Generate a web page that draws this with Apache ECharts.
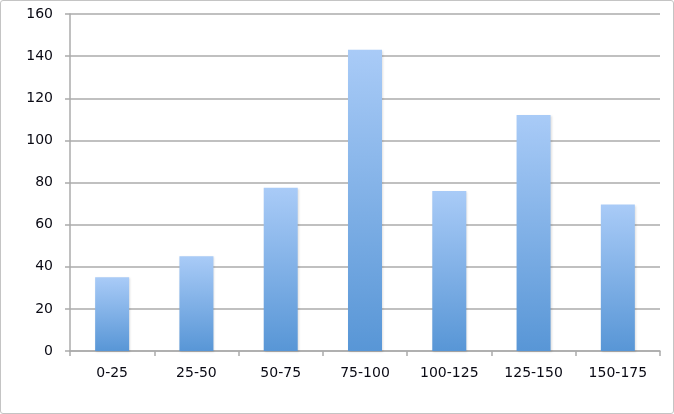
<!DOCTYPE html>
<html>
<head>
<meta charset="utf-8">
<script src="https://cdn.jsdelivr.net/npm/echarts@6/dist/echarts.min.js"></script>
<style>
html,body{margin:0;padding:0;background:#fff;}
#c{width:674px;height:414px;box-sizing:border-box;border:1px solid #c4c4c4;border-radius:3px;}
</style>
</head>
<body>
<div id="c"></div>
<script>
var categories = ['0-25','25-50','50-75','75-100','100-125','125-150','150-175'];
var values = [35, 45, 77.5, 143, 76, 112, 69.5];
var yTicks = {min: 0, max: 160, interval: 20};

var chart = echarts.init(document.getElementById('c'), null, {renderer: 'canvas'});
var font = '"DejaVu Sans", sans-serif';
chart.setOption({
  animation: false,
  grid: {left: 69, right: 13, top: 13, bottom: 62},
  xAxis: {
    type: 'category',
    data: categories,
    axisLine: {lineStyle: {color: '#ababab', width: 1.5}},
    axisTick: {show: true, length: 5, lineStyle: {color: '#ababab', width: 1.5}},
    axisLabel: {color: '#0a0a14', fontFamily: font, fontSize: 14, margin: 15}
  },
  yAxis: {
    type: 'value',
    min: yTicks.min, max: yTicks.max, interval: yTicks.interval,
    axisLine: {show: true, lineStyle: {color: '#ababab', width: 1.5}},
    axisTick: {show: true, length: 5, lineStyle: {color: '#ababab', width: 1.5}},
    axisLabel: {color: '#0a0a14', fontFamily: font, fontSize: 14, margin: 17},
    splitLine: {lineStyle: {color: '#ababab', width: 1.5}}
  },
  series: [{
    type: 'bar',
    data: values,
    barWidth: 34,
    itemStyle: {
      color: new echarts.graphic.LinearGradient(0, 0, 0, 1, [
        {offset: 0, color: '#a9cbf7'},
        {offset: 1, color: '#5896d6'}
      ]),
      shadowColor: 'rgba(0,0,0,0.12)',
      shadowBlur: 2,
      shadowOffsetX: 1,
      shadowOffsetY: 1
    }
  }]
});
</script>
</body>
</html>
